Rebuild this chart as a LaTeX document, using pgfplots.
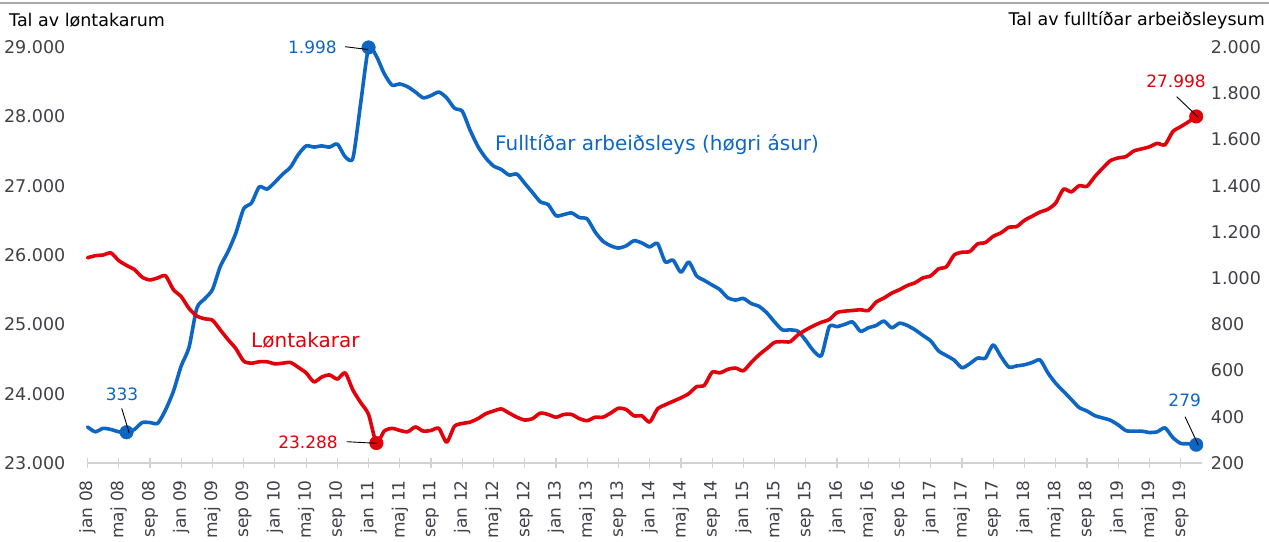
\documentclass[border=0pt]{standalone}
\usepackage{pgfplots}
\usepackage{pgfplotstable}
\pgfplotsset{compat=1.18}
\usepackage{fontspec}
\setmainfont{DejaVu Sans}
\definecolor{myblue}{RGB}{14,102,196}
\definecolor{myred}{RGB}{226,0,10}
\definecolor{txt}{RGB}{64,64,72}
\definecolor{axgray}{RGB}{210,210,210}
\definecolor{topgray}{RGB}{170,170,170}

\pgfplotstableread{
m L R
0 25960 356
1 25990 335
2 26000 350
3 26030 345
4 25920 335
5 25850 333
6 25790 345
7 25680 375
8 25640 375
9 25670 372
10 25700 430
11 25500 510
12 25400 620
13 25230 700
14 25120 870
15 25080 910
16 25060 950
17 24920 1050
18 24780 1115
19 24650 1195
20 24470 1300
21 24440 1325
22 24460 1395
23 24460 1385
24 24430 1415
25 24440 1450
26 24450 1480
27 24380 1535
28 24300 1572
29 24170 1567
30 24240 1572
31 24270 1567
32 24210 1580
33 24300 1525
34 24050 1520
35 23870 1760
36 23700 1998
37 23288 1960
38 23460 1885
39 23500 1835
40 23470 1840
41 23450 1828
42 23520 1805
43 23460 1780
44 23470 1790
45 23500 1805
46 23300 1780
47 23530 1735
48 23570 1722
49 23590 1640
50 23640 1570
51 23710 1520
52 23750 1485
53 23780 1470
54 23720 1446
55 23660 1450
56 23620 1410
57 23640 1370
58 23720 1330
59 23700 1318
60 23660 1270
61 23700 1275
62 23700 1282
63 23640 1262
64 23610 1256
65 23660 1200
66 23660 1160
67 23720 1140
68 23790 1130
69 23770 1140
70 23680 1162
71 23680 1152
72 23590 1135
73 23780 1150
74 23840 1070
75 23890 1078
76 23940 1025
77 24000 1070
78 24100 1010
79 24120 990
80 24310 970
81 24300 950
82 24350 915
83 24370 905
84 24330 912
85 24450 890
86 24560 878
87 24650 850
88 24740 810
89 24750 776
90 24750 776
91 24850 770
92 24920 730
93 24980 685
94 25030 665
95 25070 790
96 25170 790
97 25190 800
98 25200 810
99 25210 770
100 25200 785
101 25320 795
102 25380 814
103 25450 785
104 25500 805
105 25560 795
106 25600 776
107 25670 752
108 25700 728
109 25800 685
110 25830 665
111 26000 645
112 26040 612
113 26050 630
114 26160 654
115 26180 654
116 26270 711
117 26320 660
118 26400 615
119 26410 620
120 26500 625
121 26560 635
122 26620 646
123 26660 590
124 26750 545
125 26950 510
126 26910 475
127 27000 440
128 26990 425
129 27130 405
130 27250 395
131 27360 385
132 27400 365
133 27420 340
134 27500 338
135 27530 338
136 27560 332
137 27610 335
138 27590 352
139 27780 310
140 27850 285
141 27920 283
142 27998 279
}\datatable

\begin{document}
\begin{tikzpicture}
\path[use as bounding box] (0,0) rectangle (1269pt,541pt);
\draw[topgray, line width=2pt] (0,538pt) -- (1269pt,538pt);

% right axis: blue series
\begin{axis}[
  at={(87.5pt,78pt)}, anchor=south west, scale only axis,
  width=1114.2pt, height=416pt,
  xmin=0, xmax=142.7, ymin=200, ymax=2000,
  scaled x ticks=false, scaled y ticks=false,
  hide x axis,
  axis y line*=right,
  y axis line style={draw=none},
  ytick={200,400,...,2000},
  yticklabels={200,400,600,800,1.000,1.200,1.400,1.600,1.800,2.000},
  ytick style={draw=none},
  yticklabel style={anchor=west, inner sep=0pt, xshift=9pt, font=\fontsize{17.5}{20}\selectfont, text=txt},
  clip=false,
]
\addplot[myblue, line width=3.6pt, smooth, tension=0.4, line join=round, line cap=round] table[x=m, y=R] {\datatable};
\addplot[only marks, mark=*, mark size=6.8pt, myblue] coordinates {(5,333) (36,1998) (142,279)};
\end{axis}

% left axis: red series
\begin{axis}[
  at={(87.5pt,78pt)}, anchor=south west, scale only axis,
  width=1114.2pt, height=416pt,
  xmin=0, xmax=142.7, ymin=23000, ymax=29000,
  scaled x ticks=false, scaled y ticks=false,
  axis x line*=bottom, axis y line*=left,
  y axis line style={draw=none},
  x axis line style={-, draw=axgray, line width=1.2pt},
  ytick={23000,24000,...,29000},
  yticklabels={23.000,24.000,25.000,26.000,27.000,28.000,29.000},
  ytick style={draw=none},
  yticklabel style={anchor=east, inner sep=0pt, xshift=-17pt, font=\fontsize{17.5}{20}\selectfont, text=txt},
  xtick={0,4,...,140},
  xticklabels={jan 08,maj 08,sep 08,jan 09,maj 09,sep 09,jan 10,maj 10,sep 10,jan 11,maj 11,sep 11,jan 12,maj 12,sep 12,jan 13,maj 13,sep 13,jan 14,maj 14,sep 14,jan 15,maj 15,sep 15,jan 16,maj 16,sep 16,jan 17,maj 17,sep 17,jan 18,maj 18,sep 18,jan 19,maj 19,sep 19},
  xtick style={draw=axgray, line width=1.2pt},
  tick align=center, major tick length=10pt,
  xticklabel style={rotate=90, anchor=east, inner sep=0pt, font=\fontsize{17}{20}\selectfont, text=txt},
  xticklabel shift=12pt,
  clip=false,
]
\addplot[myred, line width=3.6pt, smooth, tension=0.4, line join=round, line cap=round] table[x=m, y=L] {\datatable};
\addplot[only marks, mark=*, mark size=6.8pt, myred] coordinates {(37,23288) (142,27998)};
\end{axis}

% titles
\node[anchor=west, inner sep=0pt, font=\fontsize{17.5}{20}\selectfont] at (9pt,521pt) {Tal av løntakarum};
\node[anchor=east, inner sep=0pt, font=\fontsize{17.5}{20}\selectfont] at (1265pt,521pt) {Tal av fulltíðar arbeiðsleysum};

% series labels
\node[anchor=west, inner sep=0pt, font=\fontsize{20}{24}\selectfont, text=myred] at (251pt,201pt) {Løntakarar};
\node[anchor=west, inner sep=0pt, font=\fontsize{20}{24}\selectfont, text=myblue] at (495pt,396pt) {Fulltíðar arbeiðsleys (høgri ásur)};

% data labels and callouts
\node[anchor=east, inner sep=0pt, font=\fontsize{17}{20}\selectfont, text=myblue] at (337pt,494pt) {1.998};
\draw[black, line width=0.9pt] (345pt,494.3pt) -- (368pt,491.5pt);
\node[inner sep=0pt, font=\fontsize{17}{20}\selectfont, text=myblue] at (122pt,147pt) {333};
\draw[black, line width=0.9pt] (121.7pt,132.7pt) -- (129.3pt,107.7pt);
\node[anchor=east, inner sep=0pt, font=\fontsize{17}{20}\selectfont, text=myred] at (338pt,99pt) {23.288};
\draw[black, line width=0.9pt] (346.7pt,99.3pt) -- (376.7pt,97.7pt);
\node[inner sep=0pt, font=\fontsize{17}{20}\selectfont, text=myred] at (1176pt,459.3pt) {27.998};
\draw[black, line width=0.9pt] (1176.7pt,444.3pt) -- (1198.3pt,423.7pt);
\node[inner sep=0pt, font=\fontsize{17}{20}\selectfont, text=myblue] at (1184.7pt,140.3pt) {279};
\draw[black, line width=0.9pt] (1185pt,124.3pt) -- (1198.3pt,96pt);
\end{tikzpicture}
\end{document}
